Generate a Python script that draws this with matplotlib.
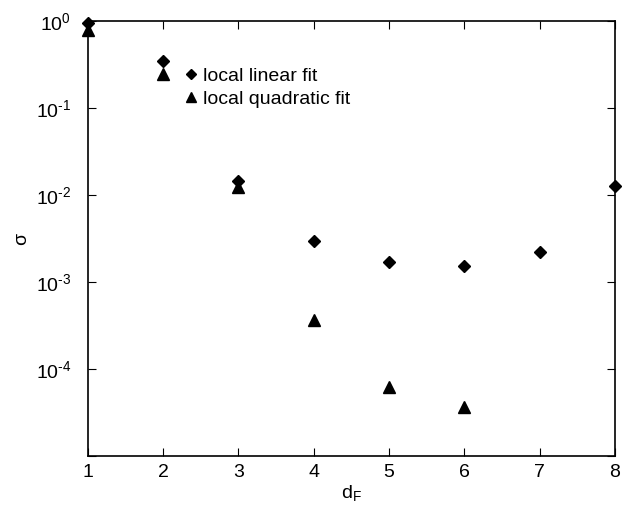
import matplotlib
matplotlib.use("Agg")
import matplotlib.pyplot as plt
from matplotlib.ticker import NullLocator, FixedLocator

plt.rcParams['font.family'] = ['Liberation Sans', 'DejaVu Sans']
plt.rcParams['mathtext.default'] = 'regular'

d_f = [1, 2, 3, 4, 5, 6, 7, 8]
sigma_linear = [0.95, 0.345, 0.0145, 0.0030, 0.0017, 0.00155, 0.0022, 0.0128]
d_f_quad = [1, 2, 3, 4, 5, 6]
sigma_quad = [0.80, 0.25, 0.0125, 3.7e-4, 6.2e-5, 3.7e-5]
y_ticks = [1e-5, 1e-4, 1e-3, 1e-2, 1e-1, 1]
y_labels = ['', '10$^{-4}$', '10$^{-3}$', '10$^{-2}$', '10$^{-1}$', '10$^{0}$']

fig = plt.figure(figsize=(6.23, 5.05), dpi=100)
ax = fig.add_axes([0.141, 0.097, 0.846, 0.861])

ax.plot(d_f, sigma_linear, 'kD', markersize=6.5, linestyle='none',
        label='local linear fit', clip_on=False)
ax.plot(d_f_quad, sigma_quad, 'k^', markersize=9, linestyle='none',
        label='local quadratic fit', clip_on=False)

ax.set_yscale('log')
ax.set_xlim(1, 8)
ax.set_ylim(1e-5, 1)
ax.yaxis.set_major_locator(FixedLocator(y_ticks))
ax.yaxis.set_minor_locator(NullLocator())
ax.set_yticklabels([s.replace('-', '\u2010') for s in y_labels])
ax.set_xticks(d_f)

ax.tick_params(direction='in', top=True, right=True, length=6, labelsize=14)
ax.tick_params(axis='x', pad=6)
ax.tick_params(axis='y', pad=12)

ax.set_xlabel('d$_F$', fontsize=14, labelpad=1)
ax.set_ylabel('σ', fontsize=14, labelpad=4)

ax.legend(loc='upper left', bbox_to_anchor=(0.153, 0.935), frameon=False,
          fontsize=14, handlelength=0.5, handletextpad=0.4, markerscale=0.75,
          labelspacing=0.3)

for s in ax.spines.values():
    s.set_linewidth(1.2)

fig.savefig('out.png', dpi=100)
